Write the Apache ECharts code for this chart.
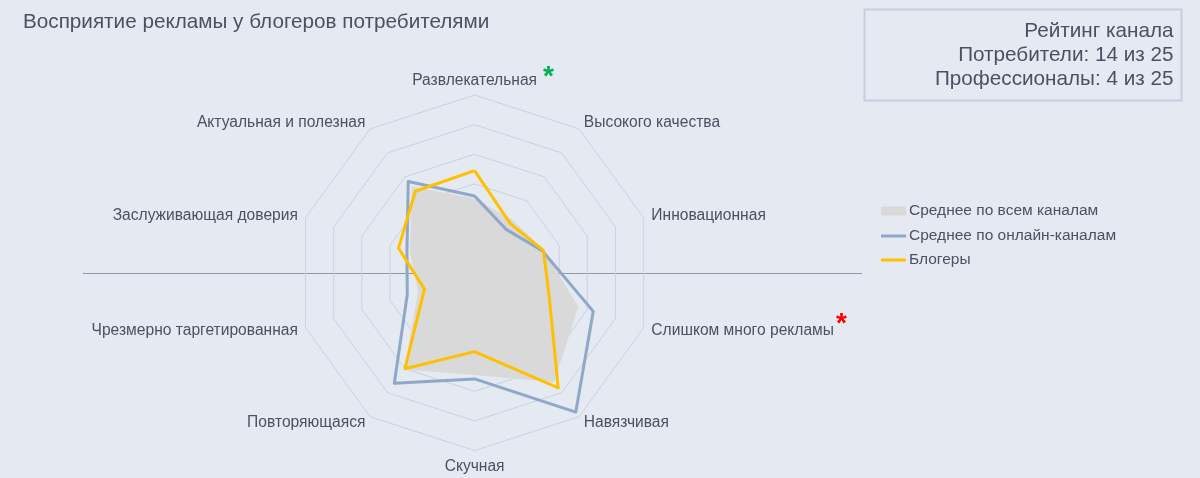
<!DOCTYPE html>
<html>
<head>
<meta charset="utf-8">
<script src="https://cdn.jsdelivr.net/npm/echarts@6/dist/echarts.min.js"></script>
<style>
  html, body { margin: 0; padding: 0; background: #e4e9f2; }
  #main { width: 1200px; height: 478px; }
</style>
</head>
<body>
<div id="main"></div>
<script>
// axes, clockwise from the top
var categories = ['Развлекательная', 'Высокого качества', 'Инновационная', 'Слишком много рекламы',
  'Навязчивая', 'Скучная', 'Повторяющаяся', 'Чрезмерно таргетированная',
  'Заслуживающая доверия', 'Актуальная и полезная'];
var seriesNames = ['Среднее по всем каналам', 'Среднее по онлайн-каналам', 'Блогеры'];
var avgAll    = [2.5, 2.2, 2.45, 3.68, 4.57, 3.45, 4.03, 2.0, 2.3, 3.6];
var avgOnline = [2.59, 1.81, 2.4, 4.21, 5.81, 3.58, 4.61, 2.39, 2.4, 3.81];
var bloggers  = [3.45, 2.05, 2.44, 2.65, 4.8, 2.66, 4.0, 1.78, 2.7, 3.4];
var ratingLines = ['Рейтинг канала', 'Потребители: 14 из 25', 'Профессионалы: 4 из 25'];
var greenStar = 'Развлекательная';
var redStar = 'Слишком много рекламы';

// echarts goes counter-clockwise, so flip the order after the first axis
function ccw(arr) {
  return [arr[0]].concat(arr.slice(1).reverse());
}

var textColor = '#4b5162';
var font = 'Liberation Sans';

var chart = echarts.init(document.getElementById('main'));
var option = {
  backgroundColor: '#e4e9f2',
  animation: false,
  title: {
    text: 'Восприятие рекламы у блогеров потребителями',
    left: 23,
    top: 12,
    padding: 0,
    textStyle: { fontFamily: font, fontSize: 20.7, fontWeight: 'normal', color: textColor }
  },
  legend: [{
    data: [seriesNames[0]],
    orient: 'vertical',
    left: 876,
    top: 198,
    icon: 'rect',
    itemWidth: 25,
    itemHeight: 9,
    itemGap: 4,
    textStyle: { fontFamily: font, fontSize: 15.5, color: textColor, padding: [0, 0, 0, -2] }
  }, {
    data: [seriesNames[1], seriesNames[2]],
    orient: 'vertical',
    left: 876,
    top: 223,
    icon: 'rect',
    itemWidth: 25,
    itemHeight: 3,
    itemGap: 8,
    textStyle: { fontFamily: font, fontSize: 15.5, color: textColor, padding: [0, 0, 0, -2] }
  }],
  graphic: [{
    type: 'line',
    shape: { x1: 83, y1: 273.5, x2: 862, y2: 273.5 },
    style: { stroke: '#8e99ad', lineWidth: 1 },
    z: 0
  }, {
    // rating box, top right
    type: 'group',
    left: 862,
    top: 7,
    children: [{
      type: 'rect',
      shape: { x: 1, y: 1, width: 317, height: 91 },
      style: { fill: 'none', stroke: '#c4d0e1', lineWidth: 2 }
    }, {
      type: 'text',
      style: {
        text: ratingLines.join('\n'),
        x: 310,
        y: 11,
        align: 'right',
        verticalAlign: 'top',
        fontFamily: font,
        fontSize: 20.7,
        lineHeight: 24,
        fill: textColor
      }
    }]
  }],
  radar: {
    center: ['39.55%', '57.07%'],
    radius: 177.8,
    startAngle: 90,
    splitNumber: 6,
    shape: 'polygon',
    indicator: ccw(categories).map(function (c) { return { name: c, min: 0, max: 6 }; }),
    axisName: {
      fontFamily: font,
      fontSize: 15.6,
      color: textColor,
      lineHeight: 16,
      formatter: function (name) {
        if (name === greenStar) return '{pad|*}{nt|' + name + '}{g|*}';
        if (name === redStar) return '{n|' + name + '}{r|*}';
        return name;
      },
      rich: {
        n: { fontFamily: font, fontSize: 15.6, color: textColor, lineHeight: 16 },
        nt: { fontFamily: font, fontSize: 15.6, color: textColor, lineHeight: 16, padding: [4, 0, 0, 0] },
        pad: { fontSize: 28, fontWeight: 'bold', color: 'rgba(0,0,0,0)', lineHeight: 16, padding: [0, 6, 4, 0] },
        g: { fontFamily: font, fontSize: 28, fontWeight: 'bold', color: '#00b050', lineHeight: 16, padding: [0, 0, 4, 6] },
        r: { fontFamily: font, fontSize: 28, fontWeight: 'bold', color: '#ff0000', lineHeight: 16, padding: [0, 0, 12, 2] }
      }
    },
    nameGap: 8,
    axisLine: { show: false },
    axisTick: { show: false },
    axisLabel: { show: false },
    splitArea: { show: false },
    splitLine: { lineStyle: { color: '#c9d3e2', width: 1 } }
  },
  series: [{
    type: 'radar',
    symbol: 'none',
    z: 2,
    itemStyle: { color: '#d9d9d9' },
    lineStyle: { width: 0, color: '#d9d9d9' },
    areaStyle: { color: '#d9d9d9', opacity: 1 },
    data: [{ name: seriesNames[0], value: ccw(avgAll) }]
  }, {
    type: 'radar',
    symbol: 'none',
    z: 3,
    itemStyle: { color: '#8fa8c8' },
    lineStyle: { width: 3, color: '#8fa8c8' },
    data: [{ name: seriesNames[1], value: ccw(avgOnline) }]
  }, {
    type: 'radar',
    symbol: 'none',
    z: 4,
    itemStyle: { color: '#ffc000' },
    lineStyle: { width: 3, color: '#ffc000' },
    data: [{ name: seriesNames[2], value: ccw(bloggers) }]
  }]
};
chart.setOption(option);
</script>
</body>
</html>
